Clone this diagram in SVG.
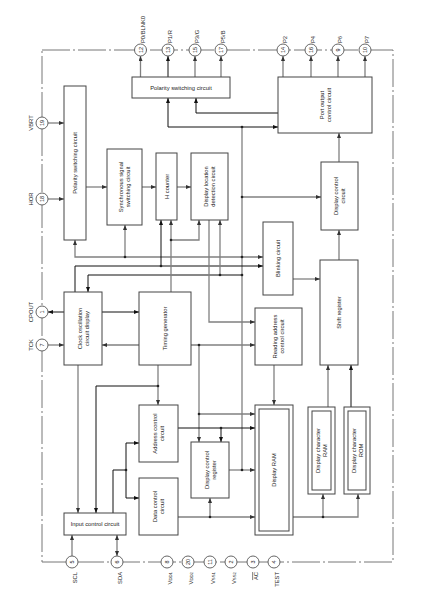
<svg xmlns="http://www.w3.org/2000/svg" width="422" height="606" viewBox="0 0 422 606">
<style>
text{font-family:"Liberation Sans",Arial,sans-serif;font-size:5.8px;fill:#222}
.box{fill:#fff;stroke:#444;stroke-width:1}
.pin{fill:#fff;stroke:#555;stroke-width:0.9}
.pn{font-size:5.5px}
.pl{font-size:5.8px}
.g{fill:none;stroke:#808080;stroke-width:1.3}
.k{fill:none;stroke:#111;stroke-width:1}
.ga{marker-end:url(#mg)}
.ka{marker-end:url(#mk)}
.gs{marker-start:url(#mg)}
.ks{marker-start:url(#mk)}
.bd{fill:none;stroke:#777;stroke-width:1;stroke-dasharray:28 3 2 3}
.d{fill:#222}
</style>
<defs>
<marker id="mg" markerUnits="userSpaceOnUse" markerWidth="6" markerHeight="5" refX="5" refY="2" orient="auto-start-reverse"><path d="M0,0 L5,2 L0,4 z" fill="#333"/></marker>
<marker id="mk" markerUnits="userSpaceOnUse" markerWidth="6" markerHeight="5" refX="5" refY="2" orient="auto-start-reverse"><path d="M0,0 L5,2 L0,4 z" fill="#111"/></marker>
</defs>
<rect width="422" height="606" fill="#fff"/>
<g id="border"><path class="bd" d="M42,50 H393 V562 H42 Z"/></g>

<g id="connectors">
<path class="g ga" d="M140.5,77 V56"/>
<path class="k ka" d="M168,77 V56"/>
<path class="g ga" d="M195,77 V56"/>
<path class="g ga" d="M221,77 V56"/>
<path class="g ga" d="M283,77 V56"/>
<path class="g ga" d="M311,77 V56"/>
<path class="g ga" d="M338,77 V56"/>
<path class="g ga" d="M365,77 V56"/>
<path class="k ka" d="M278,113 H196 V98"/>
<path class="k ka ks" d="M168,98 V127 H278"/>
<path class="g" d="M242,470 V127"/>
<path class="g ga" d="M242,197 H321"/>
<path class="g ga" d="M339,162 V133"/>
<path class="g ga" d="M339,260 V230"/>
<path class="g ga" d="M293,279 H320"/>
<path class="g ga" d="M328,407 V365"/>
<path class="k ka" d="M351,407 V365"/>
<path class="g ga" d="M293,517 H358 V494"/>
<path class="g ga" d="M323,517 V494"/>
<path class="g ga" d="M48,123 H64"/>
<path class="g ga" d="M48,199 H64"/>
<path class="k ka" d="M64,312 H48"/>
<path class="g ga" d="M48,345 H64"/>
<path class="g ga" d="M86,187 H107"/>
<path class="g ga" d="M142,187 H156"/>
<path class="g ga" d="M177,187 H191"/>
<path class="g ga gs" d="M75,240 V257 H263"/>
<path class="g ga" d="M125,257 V225"/>
<path class="k ka" d="M75,292 V266 H263"/>
<path class="k ka" d="M161,266 V220"/>
<path class="k ka" d="M242,275 H88 V292"/>
<path class="g ga" d="M220,275 V220"/>
<path class="g ga" d="M171,292 V220"/>
<path class="g ga" d="M171,240 H199 V220"/>
<path class="g ga" d="M209,220 V322 H255"/>
<path class="k ka" d="M102,312 H139"/>
<path class="g ga" d="M139,345 H102"/>
<path class="g ga" d="M191,345 H255"/>
<path class="g ga" d="M199,345 V442"/>
<path class="g ga" d="M199,414 H255"/>
<path class="g ga" d="M274,365 V405"/>
<path class="g ga" d="M78,365 V513"/>
<path class="g ga" d="M158,365 V405"/>
<path class="k ka" d="M158,386 H96 V513"/>
<path class="k" d="M113,513 V470 H126 M126,443 V498"/>
<path class="k ka" d="M126,443 H139"/>
<path class="k ka" d="M126,498 H139"/>
<path class="k ka" d="M178,428 H255"/>
<path class="k ka" d="M221,428 V442"/>
<path class="g ga" d="M178,517 H255"/>
<path class="g ga" d="M210,517 V498"/>
<path class="g ga" d="M229,470 H255"/>
<path class="g ga" d="M72,556 V535"/>
<path class="g ga gs" d="M117,556 V535"/>
<circle class="d" cx="242" cy="127" r="1.3"/>
<circle class="d" cx="242" cy="197" r="1.3"/>
<circle class="d" cx="242" cy="257" r="1.3"/>
<circle class="d" cx="242" cy="275" r="1.3"/>
<circle class="d" cx="242" cy="470" r="1.3"/>
<circle class="d" cx="125" cy="257" r="1.3"/>
<circle class="d" cx="161" cy="266" r="1.3"/>
<circle class="d" cx="220" cy="275" r="1.3"/>
<circle class="d" cx="171" cy="240" r="1.3"/>
<circle class="d" cx="199" cy="345" r="1.3"/>
<circle class="d" cx="199" cy="414" r="1.3"/>
<circle class="d" cx="158" cy="386" r="1.3"/>
<circle class="d" cx="126" cy="470" r="1.3"/>
<circle class="d" cx="221" cy="428" r="1.3"/>
<circle class="d" cx="210" cy="517" r="1.3"/>
<circle class="d" cx="323" cy="517" r="1.3"/>
</g>

<g id="pins">
<g id="pin12"><circle class="pin" cx="140.5" cy="50" r="6"/><text class="pn" transform="translate(142.5,50) rotate(-90)" text-anchor="middle">12</text><text class="pl" transform="translate(144.5,43) rotate(-90)">P0/BLNK0</text></g>
<g id="pin13"><circle class="pin" cx="168" cy="50" r="6"/><text class="pn" transform="translate(170,50) rotate(-90)" text-anchor="middle">13</text><text class="pl" transform="translate(172,43) rotate(-90)">P1/R</text></g>
<g id="pin15"><circle class="pin" cx="195" cy="50" r="6"/><text class="pn" transform="translate(197,50) rotate(-90)" text-anchor="middle">15</text><text class="pl" transform="translate(199,43) rotate(-90)">P3/G</text></g>
<g id="pin17"><circle class="pin" cx="221" cy="50" r="6"/><text class="pn" transform="translate(223,50) rotate(-90)" text-anchor="middle">17</text><text class="pl" transform="translate(225,43) rotate(-90)">P5/B</text></g>
<g id="pin14"><circle class="pin" cx="283" cy="50" r="6"/><text class="pn" transform="translate(285,50) rotate(-90)" text-anchor="middle">14</text><text class="pl" transform="translate(287,43) rotate(-90)">P2</text></g>
<g id="pin16"><circle class="pin" cx="311" cy="50" r="6"/><text class="pn" transform="translate(313,50) rotate(-90)" text-anchor="middle">16</text><text class="pl" transform="translate(315,43) rotate(-90)">P4</text></g>
<g id="pin9"><circle class="pin" cx="338" cy="50" r="6"/><text class="pn" transform="translate(340,50) rotate(-90)" text-anchor="middle">9</text><text class="pl" transform="translate(342,43) rotate(-90)">P6</text></g>
<g id="pin10"><circle class="pin" cx="365" cy="50" r="6"/><text class="pn" transform="translate(367,50) rotate(-90)" text-anchor="middle">10</text><text class="pl" transform="translate(369,43) rotate(-90)">P7</text></g>

<g id="pin19"><circle class="pin" cx="42" cy="123" r="6"/><text class="pn" transform="translate(44,123) rotate(-90)" text-anchor="middle">19</text><text class="pl" transform="translate(33,123) rotate(-90)" text-anchor="middle">VBRT</text></g>
<g id="pin18"><circle class="pin" cx="42" cy="199" r="6"/><text class="pn" transform="translate(44,199) rotate(-90)" text-anchor="middle">18</text><text class="pl" transform="translate(33,199) rotate(-90)" text-anchor="middle">HOR</text></g>
<g id="pin1"><circle class="pin" cx="42" cy="312" r="6"/><text class="pn" transform="translate(44,312) rotate(-90)" text-anchor="middle">1</text><text class="pl" transform="translate(33,312) rotate(-90)" text-anchor="middle">CPOUT</text></g>
<g id="pin7"><circle class="pin" cx="42" cy="345" r="6"/><text class="pn" transform="translate(44,345) rotate(-90)" text-anchor="middle">7</text><text class="pl" transform="translate(33,345) rotate(-90)" text-anchor="middle">TCK</text></g>

<g id="pin5"><circle class="pin" cx="72" cy="562" r="6"/><text class="pn" transform="translate(74,562) rotate(-90)" text-anchor="middle">5</text><text class="pl" transform="translate(76.5,572) rotate(-90)" text-anchor="end">SCL</text></g>
<g id="pin6"><circle class="pin" cx="117" cy="562" r="6"/><text class="pn" transform="translate(119,562) rotate(-90)" text-anchor="middle">6</text><text class="pl" transform="translate(121.5,572) rotate(-90)" text-anchor="end">SDA</text></g>
<g id="pin8"><circle class="pin" cx="167" cy="562" r="6"/><text class="pn" transform="translate(169,562) rotate(-90)" text-anchor="middle">8</text><text class="pl" transform="translate(171.5,572) rotate(-90)" text-anchor="end">V<tspan font-size="4.3px">DD1</tspan></text></g>
<g id="pin20"><circle class="pin" cx="188" cy="562" r="6"/><text class="pn" transform="translate(190,562) rotate(-90)" text-anchor="middle">20</text><text class="pl" transform="translate(192.5,572) rotate(-90)" text-anchor="end">V<tspan font-size="4.3px">DD2</tspan></text></g>
<g id="pin11"><circle class="pin" cx="210" cy="562" r="6"/><text class="pn" transform="translate(212,562) rotate(-90)" text-anchor="middle">11</text><text class="pl" transform="translate(214.5,572) rotate(-90)" text-anchor="end">V<tspan font-size="4.3px">SS1</tspan></text></g>
<g id="pin2"><circle class="pin" cx="231" cy="562" r="6"/><text class="pn" transform="translate(233,562) rotate(-90)" text-anchor="middle">2</text><text class="pl" transform="translate(235.5,572) rotate(-90)" text-anchor="end">V<tspan font-size="4.3px">SS2</tspan></text></g>
<g id="pin3"><circle class="pin" cx="253" cy="562" r="6"/><text class="pn" transform="translate(255,562) rotate(-90)" text-anchor="middle">3</text><text class="pl" transform="translate(257.5,572) rotate(-90)" text-anchor="end" text-decoration="overline">AC</text></g>
<g id="pin4"><circle class="pin" cx="274" cy="562" r="6"/><text class="pn" transform="translate(276,562) rotate(-90)" text-anchor="middle">4</text><text class="pl" transform="translate(278.5,572) rotate(-90)" text-anchor="end">TEST</text></g>
</g>

<g id="polarity-top"><rect class="box" x="132" y="77" width="98" height="21"/><text x="181" y="89.5" text-anchor="middle">Polarity switching circuit</text></g>
<g id="port-output"><rect class="box" x="278" y="77" width="94" height="56"/><text transform="translate(325,105) rotate(-90)" text-anchor="middle"><tspan x="0" dy="-1.5">Port output</tspan><tspan x="0" dy="7">control circuit</tspan></text></g>
<g id="polarity-left"><rect class="box" x="64" y="86" width="22" height="154"/><text transform="translate(75,163) rotate(-90)" text-anchor="middle" dy="2">Polarity switching circuit</text></g>
<g id="sync"><rect class="box" x="107" y="149" width="35" height="76"/><text transform="translate(124.5,187) rotate(-90)" text-anchor="middle"><tspan x="0" dy="-1.5">Synchronous signal</tspan><tspan x="0" dy="7">switching circuit</tspan></text></g>
<g id="hcounter"><rect class="box" x="156" y="153" width="21" height="67"/><text transform="translate(166.5,186.5) rotate(-90)" text-anchor="middle" dy="2">H counter</text></g>
<g id="dld"><rect class="box" x="191" y="153" width="37" height="67"/><text transform="translate(209.5,186.5) rotate(-90)" text-anchor="middle"><tspan x="0" dy="-1.5">Display location</tspan><tspan x="0" dy="7">detection circuit</tspan></text></g>
<g id="disp-ctrl"><rect class="box" x="321" y="162" width="37" height="68"/><text transform="translate(339.5,196) rotate(-90)" text-anchor="middle"><tspan x="0" dy="-1.5">Display control</tspan><tspan x="0" dy="7">circuit</tspan></text></g>
<g id="blink"><rect class="box" x="263" y="222" width="30" height="73"/><text transform="translate(278,258.5) rotate(-90)" text-anchor="middle" dy="2">Blinking circuit</text></g>
<g id="shift"><rect class="box" x="320" y="260" width="38" height="105"/><text transform="translate(339,312.5) rotate(-90)" text-anchor="middle" dy="2">Shift register</text></g>
<g id="reading"><rect class="box" x="255" y="308" width="47" height="57"/><text transform="translate(278.5,336.5) rotate(-90)" text-anchor="middle"><tspan x="0" dy="-1.5">Reading address</tspan><tspan x="0" dy="7">control circuit</tspan></text></g>
<g id="clock"><rect class="box" x="64" y="292" width="38" height="73"/><text transform="translate(83,328.5) rotate(-90)" text-anchor="middle"><tspan x="0" dy="-1.5">Clock oscillation</tspan><tspan x="0" dy="7">circuit display</tspan></text></g>
<g id="timing"><rect class="box" x="139" y="292" width="52" height="73"/><text transform="translate(165,328.5) rotate(-90)" text-anchor="middle" dy="2">Timing generator</text></g>
<g id="addr"><rect class="box" x="139" y="405" width="39" height="57"/><text transform="translate(158.5,433.5) rotate(-90)" text-anchor="middle"><tspan x="0" dy="-1.5">Address control</tspan><tspan x="0" dy="7">circuit</tspan></text></g>
<g id="data"><rect class="box" x="139" y="478" width="39" height="57"/><text transform="translate(158.5,506.5) rotate(-90)" text-anchor="middle"><tspan x="0" dy="-1.5">Data control</tspan><tspan x="0" dy="7">circuit</tspan></text></g>
<g id="dcr"><rect class="box" x="191" y="442" width="38" height="56"/><text transform="translate(210,470) rotate(-90)" text-anchor="middle"><tspan x="0" dy="-1.5">Display control</tspan><tspan x="0" dy="7">register</tspan></text></g>
<g id="dram"><rect class="box" x="255" y="405" width="38" height="130"/><rect class="box" x="259" y="409" width="30" height="122"/><text transform="translate(274,470) rotate(-90)" text-anchor="middle" dy="2">Display RAM</text></g>
<g id="cram"><rect class="box" x="308" y="407" width="27" height="87"/><rect class="box" x="312" y="411" width="19" height="79"/><text transform="translate(321.5,450.5) rotate(-90)" text-anchor="middle"><tspan x="0" dy="-1.5">Display character</tspan><tspan x="0" dy="7">RAM</tspan></text></g>
<g id="crom"><rect class="box" x="344" y="407" width="26" height="87"/><rect class="box" x="348" y="411" width="18" height="79"/><text transform="translate(357,450.5) rotate(-90)" text-anchor="middle"><tspan x="0" dy="-1.5">Display character</tspan><tspan x="0" dy="7">ROM</tspan></text></g>
<g id="input"><rect class="box" x="64" y="513" width="62" height="22"/><text x="95" y="526" text-anchor="middle">Input control circuit</text></g>
</svg>
